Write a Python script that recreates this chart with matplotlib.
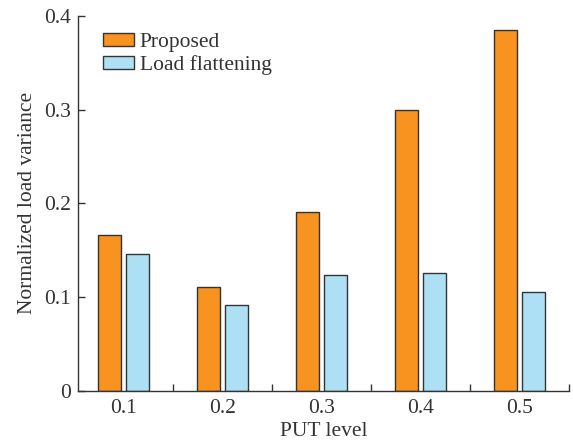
import numpy as np
import matplotlib
matplotlib.use("Agg")
import matplotlib.pyplot as plt

# data
put_levels = ["0.1", "0.2", "0.3", "0.4", "0.5"]
proposed = [0.166, 0.111, 0.191, 0.300, 0.385]
load_flattening = [0.146, 0.092, 0.123, 0.126, 0.105]

plt.rcParams["font.family"] = ["Liberation Serif", "DejaVu Serif"]
plt.rcParams["font.size"] = 15.5

INK = "#333333"
ORANGE = "#F7931E"
BLUE = "#AEE0F5"

fig = plt.figure(figsize=(5.73, 4.44), dpi=100)
ax = fig.add_axes([0.136, 0.120, 0.857, 0.844])

x = np.arange(len(put_levels))
w = 0.23
ax.bar(x - 0.14, proposed, width=w, color=ORANGE, edgecolor=INK,
       linewidth=1.0, label="Proposed")
ax.bar(x + 0.14, load_flattening, width=w, color=BLUE, edgecolor=INK,
       linewidth=1.0, label="Load flattening")

ax.set_xlim(-0.46, len(put_levels) - 0.5)
ax.set_ylim(0, 0.4)
ax.set_yticks([0, 0.1, 0.2, 0.3, 0.4])
ax.set_yticklabels(["0", "0.1", "0.2", "0.3", "0.4"])

# group labels centred, tick marks between groups
ax.set_xticks(x)
ax.set_xticklabels(put_levels)
ax.set_xticks(x + 0.5, minor=True)
ax.tick_params(axis="x", which="major", length=0, pad=6, colors=INK)
ax.tick_params(axis="x", which="minor", direction="in", length=5,
               color=INK, width=1.0)
ax.tick_params(axis="y", direction="in", length=5, color=INK,
               width=1.0, colors=INK, pad=5)

for side in ("top", "right"):
    ax.spines[side].set_visible(False)
for side in ("left", "bottom"):
    ax.spines[side].set_color(INK)
    ax.spines[side].set_linewidth(1.0)

ax.set_xlabel("PUT level", color=INK, labelpad=3)
ax.set_ylabel("Normalized load variance", color=INK, labelpad=5)

ax.legend(loc="upper left", bbox_to_anchor=(0.025, 0.99), frameon=False,
          handlelength=1.45, handleheight=0.55, handletextpad=0.25,
          labelspacing=0.15, borderaxespad=0.2, labelcolor=INK)

fig.savefig("out.png", dpi=100, facecolor="white")
